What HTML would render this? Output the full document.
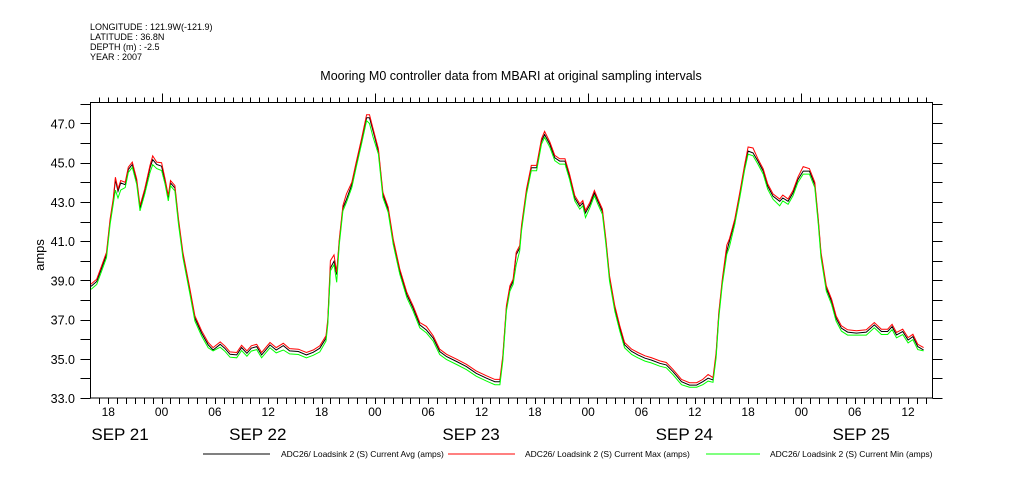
<!DOCTYPE html>
<html><head><meta charset="utf-8">
<style>
html,body{margin:0;padding:0;background:#fff;}
svg{display:block;font-family:"Liberation Sans",sans-serif;}
</style></head>
<body>
<svg id="chart" width="1009" height="504" viewBox="0 0 1009 504">
  <g font-size="9" fill="#000">
    <text x="90" y="30">LONGITUDE : 121.9W(-121.9)</text>
    <text x="90" y="40">LATITUDE : 36.8N</text>
    <text x="90" y="50">DEPTH (m) : -2.5</text>
    <text x="90" y="60">YEAR : 2007</text>
  </g>
  <text x="511" y="80" text-anchor="middle" font-size="12.5">Mooring M0 controller data from MBARI at original sampling intervals</text>
  <text transform="translate(44,255) rotate(-90)" text-anchor="middle" font-size="13">amps</text>
  <rect x="90.5" y="102.5" width="842" height="295.5" fill="none" stroke="#000" stroke-width="1"/>
  <g id="axes"></g>
  <g id="series"></g>
  <g id="legend" font-size="8.5">
    <line x1="203" y1="454" x2="270" y2="454" stroke="#000"/>
    <text x="281" y="457">ADC26/ Loadsink 2 (S) Current Avg (amps)</text>
    <line x1="448" y1="454" x2="515" y2="454" stroke="#f00"/>
    <text x="525" y="457">ADC26/ Loadsink 2 (S) Current Max (amps)</text>
    <line x1="706" y1="454" x2="760" y2="454" stroke="#0f0"/>
    <text x="770" y="457">ADC26/ Loadsink 2 (S) Current Min (amps)</text>
  </g>
</svg>
<script>
// hours since Sep 21 00:00
const hours = [16.06,16.7,17.26,17.8,18.2,18.56,18.8,19.1,19.4,19.9,20.25,20.7,21.2,21.57,22.1,22.7,23,23.45,24,24.4,24.75,25.0,25.5,25.9,26.4,27.2,27.75,28.5,29.25,29.8,30.6,31.1,31.7,32.45,33,33.6,34.1,34.7,35.25,36.2,36.9,37.7,38.4,39.4,40.3,41.06,41.8,42.5,42.7,43,43.4,43.7,44,44.4,44.8,45.4,45.9,46.5,47.07,47.4,47.8,48.4,48.9,49.5,50.06,50.8,51.6,52.3,53.06,53.8,54.56,55.3,56.07,57.2,58.3,59.4,60.56,61.5,62.07,62.4,62.8,63.2,63.55,63.9,64.3,64.5,65.06,65.6,66.2,66.75,67.1,67.7,68.25,68.8,69.4,69.9,70.5,71.06,71.4,71.7,72.2,72.7,73.1,73.6,74.0,74.4,75,75.56,76.1,76.9,77.6,78.4,79.1,80.06,80.8,81.55,82.5,83.4,84.2,84.9,85.5,86.05,86.4,86.7,87.1,87.6,87.9,88.5,89.06,89.6,90,90.55,91.1,91.7,92.2,92.8,93.56,93.9,94.5,95.05,95.6,96.2,96.9,97.5,97.9,98.2,98.8,99.4,99.9,100.5,101.2,102.2,103.3,104.2,105.0,105.7,106.2,106.7,107.4,108,108.55,109.1,109.75];
const avgVals = [38.69,38.94,39.63,40.31,42.01,43.03,44.14,43.54,43.97,43.88,44.65,44.91,44.05,42.69,43.54,44.74,45.16,44.91,44.82,44.05,43.2,43.97,43.71,42.01,40.31,38.43,37.07,36.31,35.71,35.45,35.74,35.54,35.23,35.2,35.57,35.28,35.54,35.62,35.2,35.71,35.45,35.67,35.4,35.37,35.2,35.33,35.54,36.05,36.9,39.63,39.97,39.29,40.99,42.69,43.12,43.88,44.91,46.1,47.29,47.29,46.61,45.59,43.37,42.61,40.99,39.46,38.26,37.58,36.73,36.47,36.05,35.37,35.11,34.86,34.6,34.26,34.01,33.83,33.83,35.03,37.58,38.6,38.94,40.31,40.65,41.67,43.54,44.74,44.74,46.1,46.44,45.93,45.25,45.08,45.08,44.31,43.2,42.78,42.95,42.44,42.86,43.46,43.03,42.52,40.99,39.12,37.58,36.56,35.71,35.37,35.2,35.03,34.94,34.77,34.69,34.34,33.83,33.66,33.66,33.83,34.01,33.92,35.2,37.24,38.94,40.48,40.99,42.01,43.37,44.74,45.59,45.5,45.08,44.57,43.8,43.29,43.03,43.2,43.03,43.46,44.14,44.57,44.57,43.88,42.01,40.31,38.6,37.92,37.07,36.56,36.36,36.31,36.36,36.73,36.39,36.39,36.64,36.22,36.39,35.96,36.13,35.62,35.45];
const maxVals = [38.81,39.06,39.75,40.43,42.13,43.15,44.26,43.66,44.09,44.0,44.77,45.03,44.17,42.81,43.66,44.86,45.35,45.03,45.0,44.17,43.32,44.09,43.83,42.13,40.43,38.55,37.19,36.43,35.83,35.57,35.86,35.66,35.35,35.32,35.69,35.4,35.66,35.74,35.32,35.83,35.57,35.79,35.52,35.49,35.32,35.45,35.66,36.17,37.02,40.0,40.3,39.41,41.11,42.81,43.4,44.0,45.03,46.22,47.45,47.45,46.73,45.71,43.49,42.73,41.11,39.58,38.38,37.7,36.85,36.65,36.17,35.49,35.23,34.98,34.72,34.38,34.13,33.95,33.95,35.15,37.7,38.72,39.06,40.43,40.77,41.79,43.66,44.86,44.86,46.22,46.6,46.05,45.37,45.2,45.2,44.43,43.32,42.9,43.07,42.56,42.98,43.58,43.15,42.64,41.11,39.24,37.7,36.68,35.83,35.49,35.32,35.15,35.06,34.89,34.81,34.46,33.95,33.78,33.78,33.95,34.2,34.04,35.32,37.36,39.06,40.8,41.11,42.13,43.49,44.86,45.8,45.75,45.2,44.69,43.92,43.41,43.15,43.35,43.15,43.58,44.26,44.8,44.7,44.0,42.13,40.43,38.72,38.04,37.19,36.68,36.48,36.43,36.48,36.85,36.51,36.51,36.76,36.34,36.51,36.08,36.25,35.74,35.57];
const minVals = [38.54,38.79,39.48,40.16,41.86,42.88,43.6,43.2,43.6,43.73,44.5,44.76,43.9,42.54,43.39,44.5,44.9,44.7,44.6,43.9,43.05,43.82,43.56,41.86,40.16,38.28,36.92,36.16,35.56,35.4,35.59,35.39,35.08,35.05,35.42,35.13,35.39,35.47,35.05,35.56,35.3,35.45,35.25,35.22,35.05,35.18,35.35,35.9,36.75,39.48,39.8,38.9,40.84,42.54,42.97,43.73,44.76,45.95,47.14,47.0,46.3,45.44,43.22,42.46,40.84,39.31,38.11,37.43,36.58,36.32,35.9,35.22,34.96,34.71,34.45,34.11,33.86,33.68,33.68,34.88,37.43,38.45,38.79,39.8,40.5,41.52,43.39,44.59,44.59,45.95,46.29,45.78,45.1,44.93,44.93,44.16,43.05,42.63,42.8,42.2,42.71,43.31,42.88,42.37,40.84,38.97,37.43,36.41,35.56,35.22,35.05,34.88,34.79,34.62,34.54,34.19,33.68,33.55,33.55,33.68,33.86,33.8,35.05,37.09,38.79,40.33,40.7,41.86,43.22,44.59,45.44,45.35,44.93,44.42,43.65,43.14,42.8,43.05,42.88,43.31,43.99,44.42,44.42,43.73,41.86,40.16,38.45,37.77,36.92,36.41,36.21,36.21,36.21,36.58,36.24,36.24,36.49,36.07,36.24,35.81,35.98,35.47,35.4];
const yTicks = [33.0,35.0,37.0,39.0,41.0,43.0,45.0,47.0];
const hourLabels = ["18","00","06","12","18","00","06","12","18","00","06","12","18","00","06","12"];
const labelHours = [18,24,30,36,42,48,54,60,66,72,78,84,90,96,102,108];
const dateLabels = ["SEP 21","SEP 22","SEP 23","SEP 24","SEP 25"];
const dateHours = [16.1,31.6,55.6,79.6,99.5];

const X0=90.5, X1=932.5, Y0=398, Y1=102.5;
const H0=16.0, H1=110.75, V0=33, V1=48.07;
const xs = h => X0 + (h-H0)/(H1-H0)*(X1-X0);
const ys = v => Y0 - (v-V0)/(V1-V0)*(Y0-Y1);
const NS="http://www.w3.org/2000/svg";
const axes=document.getElementById('axes');
const series=document.getElementById('series');
function mk(tag, attrs, parent){const e=document.createElementNS(NS,tag);for(const k in attrs)e.setAttribute(k,attrs[k]);parent.appendChild(e);return e;}

for(let v=33; v<=48; v+=1){
  const y=Math.round(ys(v))+0.5;
  const t1=mk('line',{x1:X0-10,x2:X0,y1:y,y2:y,stroke:'#000'},axes);
  
  
  const t2=mk('line',{x1:X1,x2:X1+10,y1:y,y2:y,stroke:'#000'},axes);
  
  
}
yTicks.forEach(v=>{
  const t=mk('text',{x:75,y:ys(v)+5,'text-anchor':'end','font-size':'12.5'},axes);
  t.textContent=v.toFixed(1);
  
  
});
for(let h=17; h<=110; h++){
  const x=Math.round(xs(h))+0.5;
  const major=(h%24===0);
  const b=mk('line',{x1:x,x2:x,y1:Y0,y2:Y0+6,stroke:'#000'},axes);
  
  
  const t=mk('line',{x1:x,x2:x,y1:Y1-(major?9:5),y2:Y1,stroke:'#000'},axes);
  
  
}
labelHours.forEach((h,i)=>{
  const t=mk('text',{x:xs(h),y:416,'text-anchor':'middle','font-size':'12'},axes);
  t.textContent=hourLabels[i];
  
  
});
dateHours.forEach((h,i)=>{
  const t=mk('text',{x:xs(h),y:440,'font-size':'17'},axes);
  t.textContent=dateLabels[i];
  
  
});
function line(vals,color,name){
  const pts=hours.map((h,i)=>xs(h).toFixed(1)+','+ys(vals[i]).toFixed(1)).join(' ');
  const p=mk('polyline',{points:pts,fill:'none',stroke:color,'stroke-width':'1'},series);
  
  
}
line(avgVals,'#000','series-avg');
line(maxVals,'#f00','series-max');
line(minVals,'#0f0','series-min');
</script>
</body></html>
